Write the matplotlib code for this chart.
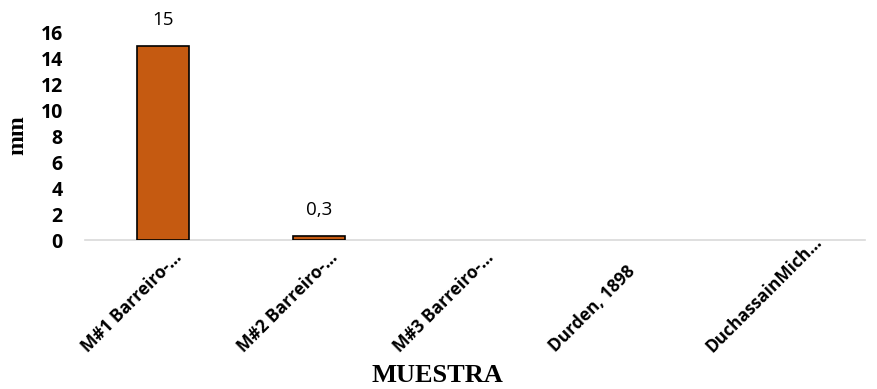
import matplotlib
matplotlib.use("Agg")
import matplotlib.pyplot as plt
import matplotlib.transforms as mtransforms

categories = ["M#1 Barreiro-…", "M#2 Barreiro-…", "M#3 Barreiro-…", "Durden, 1898", "DuchassainMich…"]
values = [15, 0.3, None, None, None]
value_labels = ["15", "0,3", None, None, None]
yticks = [0, 2, 4, 6, 8, 10, 12, 14, 16]

fig = plt.figure(figsize=(8.77, 3.89), dpi=100)
ax = fig.add_axes([85 / 877, 1 - 240 / 389, 780 / 877, 210 / 389])

x = list(range(len(categories)))
for xi, v, lab in zip(x, values, value_labels):
    if v is None:
        continue
    ax.bar(xi, v, width=0.33, color="#C55A11", edgecolor="black", linewidth=1.2, zorder=3)
    ax.text(xi, v + 1.3, lab, ha="center", va="bottom", fontsize=13.5, family="Open Sans")

ax.set_xlim(-0.5, len(categories) - 0.5)
ax.set_ylim(0, 16.2)
ax.set_yticks(yticks)
ax.set_yticklabels([str(t) for t in yticks], fontsize=14, fontweight="bold", family="Open Sans")
ax.set_xticks(x)
ax.set_xticklabels([])

# rotated category labels, each starting at a common baseline below and left of its tick
offset = mtransforms.ScaledTranslation(-75 / 100, -113 / 100, fig.dpi_scale_trans)
for xi, name in zip(x, categories):
    ax.text(xi, 0, name, transform=ax.get_xaxis_transform() + offset,
            rotation=45, ha="left", va="baseline", rotation_mode="anchor",
            fontsize=12.5, fontweight="bold", family="Open Sans")

ax.tick_params(axis="both", length=0)
ax.tick_params(axis="y", pad=16)
for s in ["top", "right", "left"]:
    ax.spines[s].set_visible(False)
ax.spines["bottom"].set_color("#D9D9D9")
ax.spines["bottom"].set_linewidth(1.2)

fig.text(437 / 877, 1 - 376 / 389, "MUESTRA", ha="center", va="center",
         fontsize=19, fontweight="bold", family="Liberation Serif")
fig.text(18 / 877, 1 - 135 / 389, "mm", ha="center", va="center", rotation=90,
         fontsize=17, fontweight="bold", family="Liberation Serif")

fig.savefig("out.png", dpi=100)
